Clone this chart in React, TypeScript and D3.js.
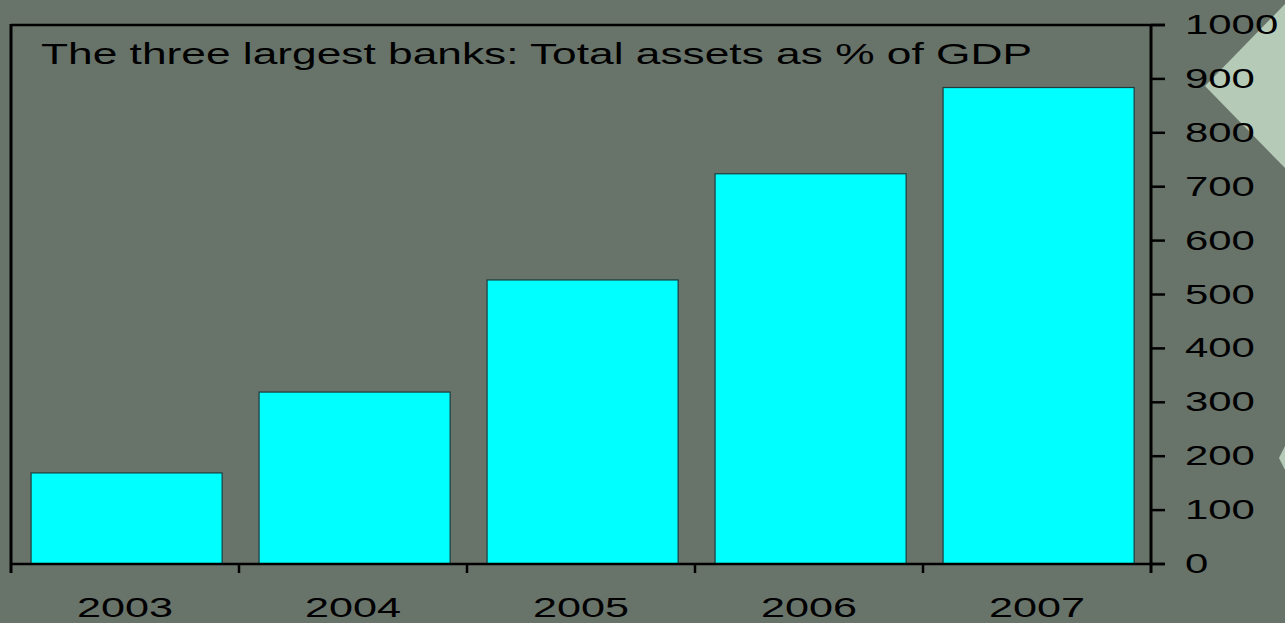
import React from "react";
import * as d3 from "d3";

const categories = ["2003", "2004", "2005", "2006", "2007"];
const values = [169, 319, 527, 724, 884];
const yTicks = [0, 100, 200, 300, 400, 500, 600, 700, 800, 900, 1000];
const title = "The three largest banks: Total assets as % of GDP";

const W = 1285;
const H = 623;
const left = 11;
const right = 1151;
const top = 25;
const bottom = 564;
const FONT = "'Liberation Sans', Arial, sans-serif";

export default function App() {
  const x = d3.scaleBand<string>().domain(categories).range([left, right]).padding(0);
  const y = d3.scaleLinear().domain([0, 1000]).range([bottom, top]);
  const step = x.step();
  const barOff = step * 0.088;
  const barW = step * 0.838;
  const boundaries = categories.map((c) => x(c) as number).concat([right]);

  return (
    <svg
      width={W}
      height={H}
      style={{ position: "absolute", left: 0, top: 0, display: "block" }}
    >
      <rect x={0} y={0} width={W} height={H} fill="#68736a" />
      <polygon points="1285,4 1205,86 1285,168" fill="#b5cab7" />
      <polygon points="1285,446 1279,458 1285,470" fill="#b5cab7" />

      {categories.map((c, i) => (
        <rect
          key={c}
          x={(x(c) as number) + barOff}
          y={y(values[i])}
          width={barW}
          height={bottom - y(values[i])}
          fill="#00ffff"
          stroke="#1f3b3b"
          strokeWidth={1.2}
        />
      ))}

      {/* frame */}
      <line x1={left} y1={top} x2={1165} y2={top} stroke="#000" strokeWidth={2.5} />
      <line x1={left} y1={top - 1} x2={left} y2={573} stroke="#000" strokeWidth={3} />
      <line x1={right} y1={top} x2={right} y2={573} stroke="#000" strokeWidth={3} />
      <line x1={left} y1={bottom} x2={1165} y2={bottom} stroke="#000" strokeWidth={2.5} />

      {/* y ticks */}
      {yTicks.map((t) => (
        <g key={t}>
          <line x1={right} x2={1165} y1={y(t)} y2={y(t)} stroke="#000" strokeWidth={2.5} />
          <text
            x={1185}
            y={y(t) + 9}
            fontFamily={FONT}
            fontSize={28}
            fill="#000"
            textLength={String(t).length * 23.3}
            lengthAdjust="spacingAndGlyphs"
          >
            {t}
          </text>
        </g>
      ))}

      {/* x ticks */}
      {boundaries.slice(1, -1).map((b, i) => (
        <line key={i} x1={b} x2={b} y1={bottom} y2={573} stroke="#000" strokeWidth={2.5} />
      ))}
      {categories.map((c) => (
        <text
          key={c}
          x={(x(c) as number) + step / 2}
          y={617}
          textAnchor="middle"
          fontFamily={FONT}
          fontSize={28}
          fill="#000"
          textLength={96}
          lengthAdjust="spacingAndGlyphs"
        >
          {c}
        </text>
      ))}

      <text
        x={41}
        y={64}
        fontFamily={FONT}
        fontSize={29}
        fill="#000"
        textLength={991}
        lengthAdjust="spacingAndGlyphs"
      >
        {title}
      </text>
    </svg>
  );
}
